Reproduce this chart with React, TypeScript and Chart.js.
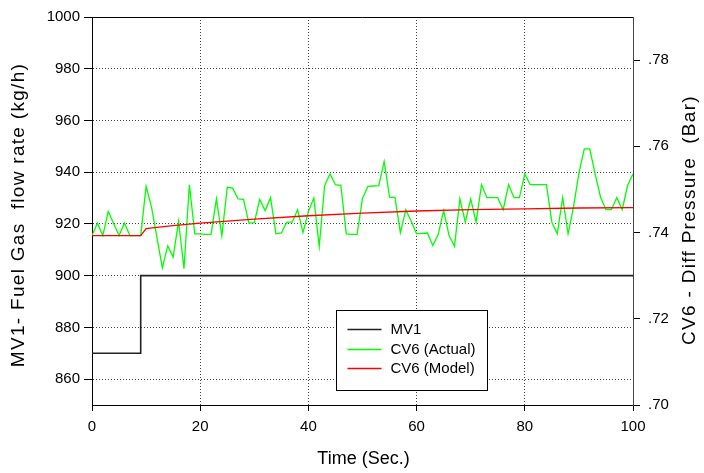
import React, { useEffect, useRef } from 'react';
import { Chart, registerables } from 'chart.js';

Chart.register(...registerables);

// ---- Data ----
// MV1 - Fuel gas flow rate (kg/h), left axis
const mv1Time = [0, 9, 9, 100];
const mv1Values = [870, 870, 900, 900];

// CV6 (Actual) - Diff pressure (Bar), right axis, sampled every 1 s from t = 0 to 100
const cv6ActualValues = [
  0.7393, 0.7422, 0.7393, 0.7449, 0.7421, 0.7393, 0.7422, 0.7393, 0.7393, 0.7393,
  0.7507, 0.7459, 0.7389, 0.7318, 0.7369, 0.7343, 0.7426, 0.7316, 0.7511, 0.7397,
  0.7397, 0.7396, 0.7396, 0.7478, 0.7392, 0.7505, 0.7503, 0.7478, 0.7477, 0.7422,
  0.7423, 0.7477, 0.7451, 0.7481, 0.7397, 0.7399, 0.7424, 0.7424, 0.7453, 0.7400,
  0.7449, 0.7480, 0.7368, 0.7509, 0.7536, 0.7511, 0.7509, 0.7397, 0.7396, 0.7396,
  0.7480, 0.7507, 0.7508, 0.7509, 0.7565, 0.7482, 0.7481, 0.7400, 0.7453, 0.7426,
  0.7397, 0.7398, 0.7399, 0.7370, 0.7396, 0.7451, 0.7393, 0.7368, 0.7478, 0.7424,
  0.7478, 0.7424, 0.7511, 0.7481, 0.7481, 0.7481, 0.7453, 0.7511, 0.7481, 0.7481,
  0.7536, 0.7511, 0.7511, 0.7511, 0.7511, 0.7424, 0.7397, 0.7481, 0.7397, 0.7459,
  0.7538, 0.7594, 0.7594, 0.7536, 0.7482, 0.7453, 0.7453, 0.7481, 0.7453, 0.7509,
  0.7536,
];
const cv6SamplePeriod = 1; // seconds

// CV6 (Model) - Diff pressure (Bar), right axis
const cv6ModelTime = [0, 9, 10, 12, 15, 20, 30, 40, 50, 60, 70, 80, 90, 100];
const cv6ModelValues = [
  0.7393, 0.7393, 0.7409, 0.7412, 0.7416, 0.7422, 0.7431, 0.7439, 0.7445, 0.745,
  0.7453, 0.7455, 0.7457, 0.7458,
];

const leftTicks = [860, 880, 900, 920, 940, 960, 980, 1000];
const rightTicks = [0.7, 0.72, 0.74, 0.76, 0.78];
const xTickStep = 20;

const xTitle = 'Time (Sec.)';
const leftTitle = 'MV1- Fuel Gas  flow rate (kg/h)';
const rightTitle = 'CV6 - Diff Pressure  (Bar)';
const legendLabels = ['MV1', 'CV6 (Actual)', 'CV6 (Model)'];

const FONT = '"Liberation Sans", Arial, Helvetica, sans-serif';

const legendColors = ['#222222', '#00ff00', '#ff0000'];

const titlesPlugin = {
  id: 'titlesAndFrame',
  afterDraw(chart: any) {
    const { ctx, chartArea: a } = chart;
    ctx.save();
    // top frame line
    ctx.strokeStyle = '#000';
    ctx.lineWidth = 1;
    ctx.beginPath();
    ctx.moveTo(a.left, a.top + 0.5);
    ctx.lineTo(a.right, a.top + 0.5);
    ctx.stroke();

    ctx.fillStyle = '#000';
    ctx.font = `18px ${FONT}`;
    ctx.textAlign = 'center';
    ctx.textBaseline = 'middle';
    ctx.fillText(xTitle, (a.left + a.right) / 2 + 1, 459);

    ctx.font = `19px ${FONT}`;
    (ctx as any).letterSpacing = '1.3px';
    ctx.save();
    ctx.translate(19, 215);
    ctx.rotate(-Math.PI / 2);
    ctx.fillText(leftTitle, 0, 0);
    ctx.restore();

    ctx.save();
    ctx.translate(690, 220);
    ctx.rotate(-Math.PI / 2);
    ctx.fillText(rightTitle, 0, 0);
    ctx.restore();
    (ctx as any).letterSpacing = '0px';
    ctx.restore();
  },
};

const legendPlugin = {
  id: 'boxLegend',
  afterDatasetsDraw(chart: any) {
    const { ctx, chartArea: a } = chart;
    const w = a.right - a.left;
    const h = a.bottom - a.top;
    const left = Math.round(a.left + w * 0.451) + 0.5;
    const right = Math.round(a.left + w * 0.73) + 0.5;
    const top = Math.round(a.top + h * 0.7558) + 0.5;
    const bottom = Math.round(a.top + h * 0.9614) + 0.5;
    ctx.save();
    ctx.fillStyle = '#fff';
    ctx.fillRect(left, top, right - left, bottom - top);
    ctx.strokeStyle = '#000';
    ctx.lineWidth = 1;
    ctx.strokeRect(left, top, right - left, bottom - top);
    ctx.font = `15px ${FONT}`;
    ctx.textBaseline = 'middle';
    ctx.textAlign = 'left';
    const rows = [19, 39, 58];
    legendLabels.forEach((lab, i) => {
      const y = top + rows[i];
      ctx.strokeStyle = legendColors[i];
      ctx.lineWidth = 1.5;
      ctx.beginPath();
      ctx.moveTo(left + 11, y);
      ctx.lineTo(left + 45, y);
      ctx.stroke();
      ctx.fillStyle = '#000';
      ctx.fillText(lab, left + 54, y);
    });
    ctx.restore();
  },
};

export default function App() {
  const ref = useRef<HTMLCanvasElement | null>(null);

  useEffect(() => {
    if (!ref.current) return;
    const tickFont = { family: FONT, size: 15 };
    const chart = new Chart(ref.current, {
      type: 'line',
      data: {
        datasets: [
          {
            label: legendLabels[2],
            data: cv6ModelTime.map((t, i) => ({ x: t, y: cv6ModelValues[i] })),
            yAxisID: 'y1',
            borderColor: '#ff0000',
            borderWidth: 1.3,
            pointRadius: 0,
            tension: 0,
            order: 0,
          },
          {
            label: legendLabels[1],
            data: cv6ActualValues.map((v, i) => ({ x: i * cv6SamplePeriod, y: v })),
            yAxisID: 'y1',
            borderColor: '#00ff00',
            borderWidth: 1.3,
            pointRadius: 0,
            tension: 0,
            order: 1,
          },
          {
            label: legendLabels[0],
            data: mv1Time.map((t, i) => ({ x: t, y: mv1Values[i] })),
            yAxisID: 'y',
            borderColor: '#222222',
            borderWidth: 1.6,
            pointRadius: 0,
            tension: 0,
            order: 2,
          },
        ],
      },
      options: {
        animation: false,
        responsive: false,
        maintainAspectRatio: false,
        layout: { padding: { top: 16, left: 0, right: 0, bottom: 0 } },
        plugins: { legend: { display: false }, tooltip: { enabled: false } },
        scales: {
          x: {
            type: 'linear',
            min: 0,
            max: 100,
            ticks: { stepSize: xTickStep, color: '#000', font: tickFont, padding: 7, maxRotation: 0 },
            grid: {
              color: (c: any) =>
                c.tick && (c.tick.value === 0 || c.tick.value === 100) ? 'rgba(0,0,0,0)' : '#444',
              tickColor: '#000',
              tickLength: 6,
              lineWidth: 1,
            },
            border: { color: '#000', width: 1, dash: [1, 2] },
            afterFit: (s: any) => {
              s.height = 68;
            },
          },
          y: {
            type: 'linear',
            position: 'left',
            min: 850,
            max: 1000,
            afterBuildTicks: (s: any) => {
              s.ticks = leftTicks.map((v) => ({ value: v }));
            },
            ticks: { color: '#000', font: tickFont, padding: 4, callback: (v: any) => String(v) },
            grid: {
              color: (c: any) => (c.tick && c.tick.value === 1000 ? 'rgba(0,0,0,0)' : '#444'),
              tickColor: '#000',
              tickLength: 8,
              lineWidth: 1,
            },
            border: { color: '#000', width: 1, dash: [1, 2] },
            afterFit: (s: any) => {
              s.width = 92;
            },
          },
          y1: {
            type: 'linear',
            position: 'right',
            min: 0.7,
            max: 0.79,
            afterBuildTicks: (s: any) => {
              s.ticks = rightTicks.map((v) => ({ value: v }));
            },
            ticks: {
              color: '#000',
              font: tickFont,
              padding: 8,
              callback: (v: any) => Number(v).toFixed(2).replace(/^0/, ''),
            },
            grid: { drawOnChartArea: false, tickColor: '#000', tickLength: 7 },
            border: { color: '#444', width: 1 },
            afterFit: (s: any) => {
              s.width = 71;
            },
          },
        },
      },
      plugins: [legendPlugin, titlesPlugin],
    });
    return () => chart.destroy();
  }, []);

  return (
    <div style={{ position: 'fixed', left: 0, top: 0, width: 704, height: 473, background: '#fff' }}>
      <canvas ref={ref} width={704} height={473} />
    </div>
  );
}
